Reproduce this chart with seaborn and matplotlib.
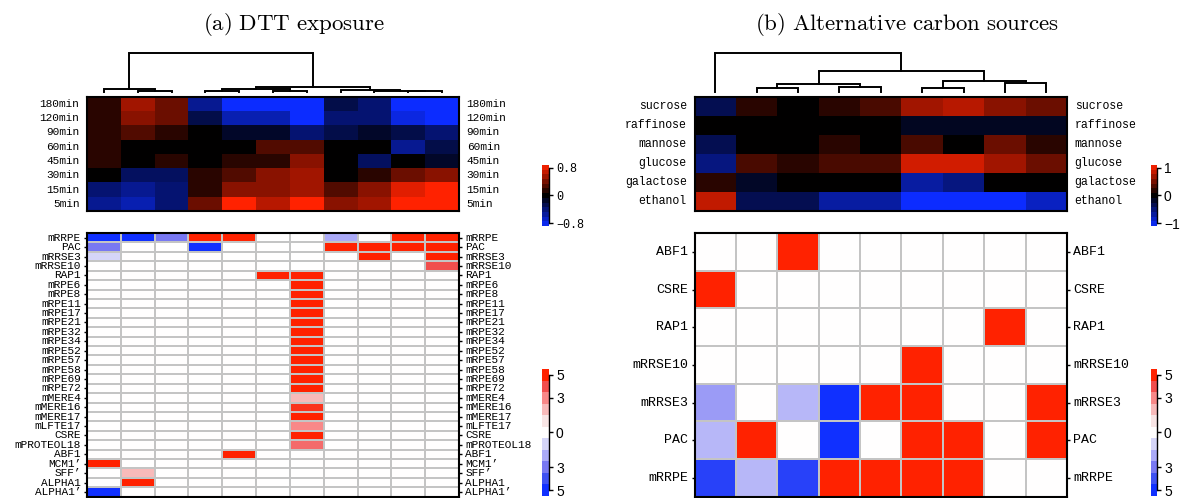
import numpy as np
import pandas as pd
import matplotlib
matplotlib.use("Agg")
import matplotlib.pyplot as plt
import seaborn as sns
from matplotlib.colors import LinearSegmentedColormap, Normalize

plt.rcParams["mathtext.fontset"] = "cm"
plt.rcParams["font.family"] = ["Liberation Mono", "DejaVu Sans Mono"]

# ---------------- data: (a) DTT exposure ----------------
dtt_times = ["180min", "120min", "90min", "60min", "45min", "30min", "15min", "5min"]
dtt_values = [
    [0.14, 0.55, 0.37, -0.50, -0.88, -0.88, -0.88, -0.25, -0.39, -0.88, -0.88],
    [0.14, 0.47, 0.37, -0.25, -0.61, -0.61, -0.88, -0.39, -0.39, -0.77, -0.88],
    [0.14, 0.28, 0.14, 0.00, -0.14, -0.14, -0.39, -0.25, -0.14, -0.25, -0.39],
    [0.14, 0.00, 0.00, 0.00, 0.00, 0.28, 0.28, 0.00, 0.00, -0.50, -0.25],
    [0.14, 0.00, 0.14, 0.00, 0.14, 0.14, 0.47, 0.00, -0.33, 0.00, -0.14],
    [0.00, -0.33, -0.33, 0.14, 0.28, 0.47, 0.55, 0.00, 0.14, 0.37, 0.47],
    [-0.39, -0.50, -0.39, 0.14, 0.47, 0.47, 0.55, 0.28, 0.47, 0.77, 0.88],
    [-0.50, -0.61, -0.39, 0.37, 0.88, 0.63, 0.88, 0.47, 0.55, 0.88, 0.88],
]
# dendrogram merges: (child a, child b, height)
dtt_links = [(1, 2, 1.3), (0, 11, 2.7), (3, 4, 1.0), (5, 6, 1.0), (13, 14, 2.7),
             (9, 10, 0.7), (8, 16, 1.3), (7, 17, 2.0), (15, 18, 5.3), (12, 19, 39.3)]
dtt_motifs = ["mRRPE", "PAC", "mRRSE3", "mRRSE10", "RAP1", "mRPE6", "mRPE8", "mRPE11",
              "mRPE17", "mRPE21", "mRPE32", "mRPE34", "mRPE52", "mRPE57", "mRPE58",
              "mRPE69", "mRPE72", "mMERE4", "mMERE16", "mMERE17", "mLFTE17", "CSRE",
              "mPROTEOL18", "ABF1", "MCM1\u2019", "SFF\u2019", "ALPHA1", "ALPHA1\u2019"]
dtt_scores = [
    [-5, -5, -3, 5, 5, 0, 0, -2, 0, 5, 5],
    [-3, 0, 0, -5, 0, 0, 0, 5, 5, 5, 5],
    [-1, 0, 0, 0, 0, 0, 0, 0, 5, 0, 5],
    [0, 0, 0, 0, 0, 0, 0, 0, 0, 0, 4],
    [0, 0, 0, 0, 0, 5, 5, 0, 0, 0, 0],
    [0, 0, 0, 0, 0, 0, 5, 0, 0, 0, 0],
    [0, 0, 0, 0, 0, 0, 5, 0, 0, 0, 0],
    [0, 0, 0, 0, 0, 0, 5, 0, 0, 0, 0],
    [0, 0, 0, 0, 0, 0, 5, 0, 0, 0, 0],
    [0, 0, 0, 0, 0, 0, 5, 0, 0, 0, 0],
    [0, 0, 0, 0, 0, 0, 5, 0, 0, 0, 0],
    [0, 0, 0, 0, 0, 0, 5, 0, 0, 0, 0],
    [0, 0, 0, 0, 0, 0, 5, 0, 0, 0, 0],
    [0, 0, 0, 0, 0, 0, 5, 0, 0, 0, 0],
    [0, 0, 0, 0, 0, 0, 5, 0, 0, 0, 0],
    [0, 0, 0, 0, 0, 0, 5, 0, 0, 0, 0],
    [0, 0, 0, 0, 0, 0, 5, 0, 0, 0, 0],
    [0, 0, 0, 0, 0, 0, 2, 0, 0, 0, 0],
    [0, 0, 0, 0, 0, 0, 4.6, 0, 0, 0, 0],
    [0, 0, 0, 0, 0, 0, 5, 0, 0, 0, 0],
    [0, 0, 0, 0, 0, 0, 3, 0, 0, 0, 0],
    [0, 0, 0, 0, 0, 0, 5, 0, 0, 0, 0],
    [0, 0, 0, 0, 0, 0, 3.5, 0, 0, 0, 0],
    [0, 0, 0, 0, 5, 0, 0, 0, 0, 0, 0],
    [5, 0, 0, 0, 0, 0, 0, 0, 0, 0, 0],
    [0, 2, 0, 0, 0, 0, 0, 0, 0, 0, 0],
    [0, 5, 0, 0, 0, 0, 0, 0, 0, 0, 0],
    [-5, 0, 0, 0, 0, 0, 0, 0, 0, 0, 0],
]

# ---------------- data: (b) Alternative carbon sources ----------------
carbon_sources = ["sucrose", "raffinose", "mannose", "glucose", "galactose", "ethanol"]
carbon_values = [
    [-0.35, 0.18, 0.00, 0.18, 0.31, 0.69, 0.79, 0.59, 0.46],
    [0.00, 0.00, 0.00, 0.00, 0.00, -0.14, -0.14, -0.14, -0.14],
    [-0.35, 0.00, 0.00, 0.18, 0.00, 0.31, 0.00, 0.46, 0.18],
    [-0.55, 0.31, 0.18, 0.31, 0.31, 0.90, 0.90, 0.69, 0.46],
    [0.18, -0.17, 0.00, 0.00, 0.00, -0.69, -0.55, 0.00, 0.00],
    [0.83, -0.35, -0.35, -0.69, -0.69, -1.10, -1.10, -1.10, -0.83],
]
carbon_links = [(1, 2, 3.7), (3, 4, 5.3), (9, 10, 7.7), (5, 6, 3.7), (7, 8, 8.7),
                (12, 13, 11.3), (11, 14, 21.3), (0, 15, 39.3)]
carbon_motifs = ["ABF1", "CSRE", "RAP1", "mRRSE10", "mRRSE3", "PAC", "mRRPE"]
carbon_scores = [
    [0, 0, 5, 0, 0, 0, 0, 0, 0],
    [5, 0, 0, 0, 0, 0, 0, 0, 0],
    [0, 0, 0, 0, 0, 0, 0, 5, 0],
    [0, 0, 0, 0, 0, 5, 0, 0, 0],
    [-2.3, 0, -1.7, -5, 5, 5, 0, 0, 5],
    [-1.7, 5, 0, -5, 0, 5, 5, 0, 5],
    [-4.5, -1.7, -4.5, 5, 5, 5, 5, 0, 0],
]

# ---------------- colormaps ----------------
expr_cmap = LinearSegmentedColormap.from_list(
    "bkr", [(0.0, "#0c2cff"), (0.5, "#000000"), (1.0, "#ff2200")])
motif_levels = [-5.5, -5, -4, -3, -2, -1, 0, 1, 2, 3, 4, 5, 5.5]
motif_colors = ["#0a28ff", "#1030ff", "#4052f2", "#7878f2", "#aaaaf8", "#d6d6f8",
                "#ffffff", "#f8e6e6", "#f8baba", "#f88888", "#f05050", "#ff2200", "#ff2200"]
motif_cmap = LinearSegmentedColormap.from_list(
    "motif", list(zip((np.array(motif_levels) + 5.5) / 11.0, motif_colors)))

W, H = 1184, 498
fig = plt.figure(figsize=(W / 100, H / 100), dpi=100)


def px_axes(x0, y0, x1, y1):
    return fig.add_axes([x0 / W, 1 - y1 / H, (x1 - x0) / W, (y1 - y0) / H])


def draw_dendrogram(ax, n_leaves, links):
    pos = {i: i + 0.5 for i in range(n_leaves)}
    hgt = {i: 0.0 for i in range(n_leaves)}
    for k, (a, b, h) in enumerate(links):
        ax.plot([pos[a], pos[a], pos[b], pos[b]], [hgt[a], h, h, hgt[b]],
                color="black", lw=1.4, clip_on=False, solid_joinstyle="miter")
        pos[n_leaves + k] = (pos[a] + pos[b]) / 2
        hgt[n_leaves + k] = h
    ax.set_xlim(0, n_leaves)
    ax.set_ylim(0, 40)
    ax.axis("off")


def style_heatmap(ax, fontsize, ticklen, pad):
    for s in ax.spines.values():
        s.set_visible(True)
        s.set_linewidth(1.5)
        s.set_color("black")
    ax.tick_params(axis="y", left=True, right=True, labelleft=True, labelright=True,
                   labelrotation=0, length=ticklen, width=1, pad=pad,
                   labelsize=fontsize)
    for t in ax.yaxis.get_major_ticks():
        t.label1.set_verticalalignment("center")
        t.label2.set_verticalalignment("center")
    ax.set_xlabel("")
    ax.set_ylabel("")


def draw_cbar(cax, cmap, vmax, n, ticks, labels, family, size):
    edges = np.linspace(-vmax, vmax, n + 1)
    centers = (edges[:-1] + edges[1:]) / 2
    cax.pcolormesh([0, 1], edges, centers[:, None], cmap=cmap,
                   norm=Normalize(-vmax, vmax), shading="flat")
    cax.set_xlim(0, 1)
    cax.set_ylim(-vmax, vmax)
    for s in ["left", "top", "bottom"]:
        cax.spines[s].set_visible(False)
    cax.spines["right"].set_bounds(min(ticks), max(ticks))
    cax.spines["right"].set_linewidth(1)
    cax.set_xticks([])
    cax.yaxis.tick_right()
    cax.set_yticks(ticks)
    cax.set_yticklabels(labels, family=family, fontsize=size)
    cax.tick_params(axis="y", length=3, width=1, pad=2)


# ---------------- panel (a) ----------------
fig.text(293.5 / W, 1 - 29.5 / H, r"$\mathrm{(a)\ DTT\ exposure}$", ha="center",
         va="baseline", fontsize=16.5)
ax = px_axes(87, 52.7, 459, 92)
draw_dendrogram(ax, 11, dtt_links)

ax = px_axes(87, 96.7, 459, 211)
sns.heatmap(pd.DataFrame(dtt_values, index=dtt_times), ax=ax, cmap=expr_cmap,
            vmin=-0.88, vmax=0.88, cbar=False, xticklabels=False, yticklabels=True)
style_heatmap(ax, 8, 0, 5.5)

cax = px_axes(542, 165, 549, 226)
draw_cbar(cax, expr_cmap, 0.88, 13, [-0.8, 0, 0.8], ["\u22120.8", "0", "0.8"],
          ["Liberation Mono", "DejaVu Sans Mono"], 8.5)

ax = px_axes(87, 233, 459, 496.7)
sns.heatmap(pd.DataFrame(dtt_scores, index=dtt_motifs), ax=ax, cmap=motif_cmap,
            vmin=-5.5, vmax=5.5, cbar=False, xticklabels=False, yticklabels=True,
            linewidths=1.2, linecolor="#c4c4c4")
style_heatmap(ax, 8, 2.2, 2.2)

cax = px_axes(542, 369, 549, 496)
draw_cbar(cax, motif_cmap, 5.5, 11, [-5, -3, 0, 3, 5], ["5", "3", "0", "3", "5"],
          ["Liberation Sans", "DejaVu Sans"], 10)

# ---------------- panel (b) ----------------
fig.text(907 / W, 1 - 29.5 / H, r"$\mathrm{(b)\ Alternative\ carbon\ sources}$",
         ha="center", va="baseline", fontsize=16.5)
ax = px_axes(694.5, 52.7, 1067, 92)
draw_dendrogram(ax, 9, carbon_links)

ax = px_axes(694.5, 96.7, 1067, 211)
sns.heatmap(pd.DataFrame(carbon_values, index=carbon_sources), ax=ax, cmap=expr_cmap,
            vmin=-1.1, vmax=1.1, cbar=False, xticklabels=False, yticklabels=True)
style_heatmap(ax, 8.3, 0, 5.5)

cax = px_axes(1151, 165, 1157, 226)
draw_cbar(cax, expr_cmap, 1.1, 13, [-1, 0, 1], ["\u22121", "0", "1"],
          ["Liberation Sans", "DejaVu Sans"], 10)

ax = px_axes(694.5, 233, 1067, 496.7)
sns.heatmap(pd.DataFrame(carbon_scores, index=carbon_motifs), ax=ax, cmap=motif_cmap,
            vmin=-5.5, vmax=5.5, cbar=False, xticklabels=False, yticklabels=True,
            linewidths=1.2, linecolor="#c4c4c4")
style_heatmap(ax, 9.5, 2.2, 2.2)

cax = px_axes(1151, 369, 1157, 496)
draw_cbar(cax, motif_cmap, 5.5, 11, [-5, -3, 0, 3, 5], ["5", "3", "0", "3", "5"],
          ["Liberation Sans", "DejaVu Sans"], 10)

fig.savefig("out.png", dpi=100)
